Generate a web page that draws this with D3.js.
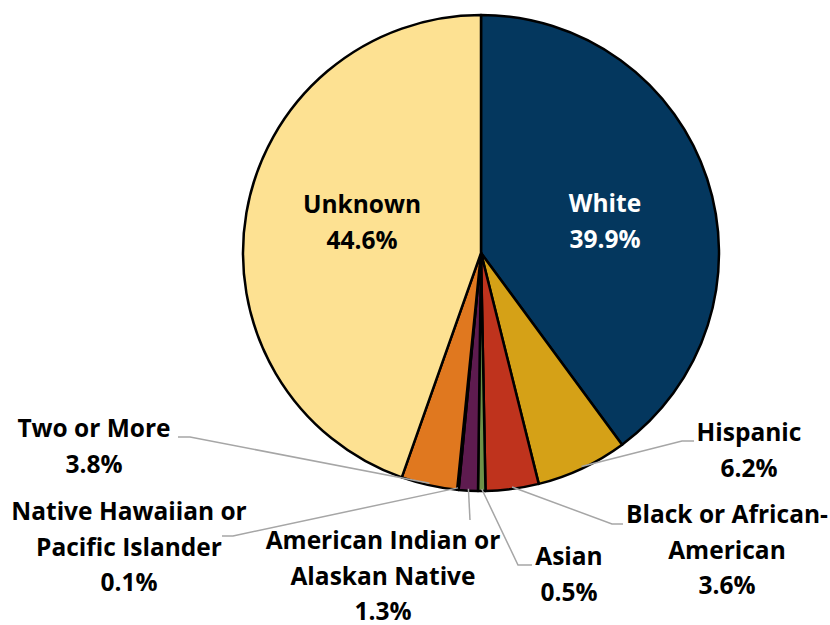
<!DOCTYPE html>
<html>
<head>
<meta charset="utf-8">
<script src="https://cdn.jsdelivr.net/npm/d3@7"></script>
<style>
  body { margin: 0; background: #fff; }
  text { font-family: "Open Sans", "Liberation Sans", sans-serif; font-weight: 700; }
</style>
</head>
<body>
<svg id="chart" width="830" height="625"></svg>
<script>
// data, clockwise from 12 o'clock
const categories = [
  "White", "Hispanic", "Black or African-American", "Asian",
  "American Indian or Alaskan Native", "Native Hawaiian or Pacific Islander",
  "Two or More", "Unknown"
];
const values = [39.9, 6.2, 3.6, 0.5, 1.3, 0.1, 3.8, 44.6];
const labelLines = [
  ["White"], ["Hispanic"], ["Black or African-", "American"], ["Asian"],
  ["American Indian or", "Alaskan Native"], ["Native Hawaiian or", "Pacific Islander"],
  ["Two or More"], ["Unknown"]
];

const colors = ["#04375e", "#d5a117", "#bf331d", "#6e9148", "#5e1b4f", "#1c1c1c", "#e0781f", "#fde192"];

// label layout (text centre x, first baseline y, leader elbow/end)
const layout = [
  { inside: true, x: 605, y: 212, fill: "#fff" },
  { x: 749, y: 441, elbow: [682, 441], end: [694, 441] },
  { x: 727, y: 523, elbow: [612, 524], end: [623, 524] },
  { x: 569, y: 565, elbow: [518, 565], end: [532, 565] },
  { x: 383, y: 549, elbow: [470, 520], end: [470, 520] },
  { x: 129, y: 520, elbow: [233, 536], end: [222, 536] },
  { x: 94,  y: 437, elbow: [190, 437], end: [178, 437] },
  { inside: true, x: 362, y: 213, fill: "#000" }
];

const cx = 481, cy = 253, r = 238;
const lineGap = 35.5;

const svg = d3.select("#chart");
const g = svg.append("g").attr("transform", `translate(${cx},${cy})`);

const pie = d3.pie().sort(null).value(d => d);
const arcs = pie(values);
const arc = d3.arc().innerRadius(0).outerRadius(r);
const edgeArc = d3.arc().innerRadius(r - 2).outerRadius(r - 2);

g.selectAll("path.slice")
  .data(arcs)
  .join("path")
  .attr("class", "slice")
  .attr("d", arc)
  .attr("fill", (d, i) => colors[i])
  .attr("stroke", "#000")
  .attr("stroke-width", 2.5)
  .attr("stroke-linejoin", "round");

// leader lines for outside labels
arcs.forEach((d, i) => {
  const L = layout[i];
  if (L.inside) return;
  const p = edgeArc.centroid(d);
  const pts = [[p[0] + cx, p[1] + cy], L.elbow, L.end];
  svg.append("path")
    .attr("d", d3.line()(pts))
    .attr("fill", "none")
    .attr("stroke", "#a6a6a6")
    .attr("stroke-width", 1.5);
});

// labels
arcs.forEach((d, i) => {
  const L = layout[i];
  const lines = labelLines[i].concat([d3.format(".1f")(values[i]) + "%"]);
  const t = svg.append("text")
    .attr("text-anchor", "middle")
    .attr("font-size", 24.5)
    .attr("fill", L.fill || "#000");
  lines.forEach((s, k) => {
    t.append("tspan")
      .attr("x", L.x)
      .attr("y", L.y + k * lineGap)
      .text(s);
  });
});
</script>
</body>
</html>
